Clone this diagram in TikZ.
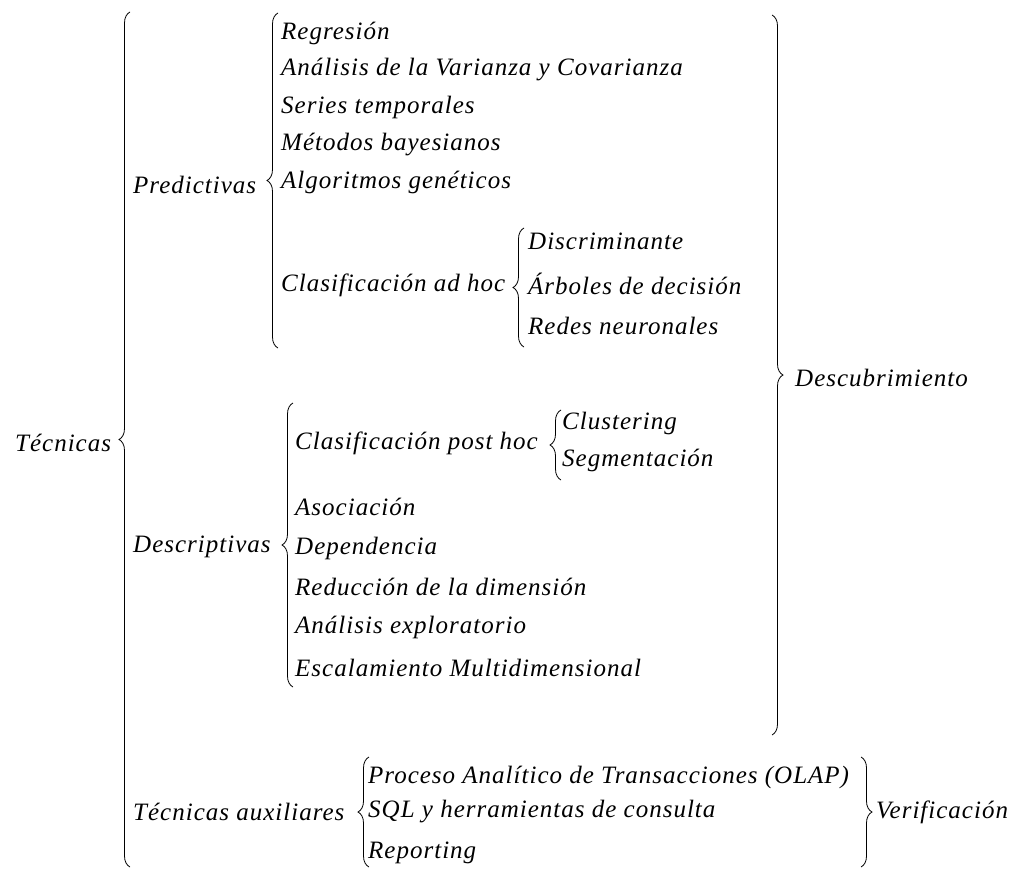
\documentclass[tikz,border=0pt]{standalone}
\usepackage{fontspec}
\setmainfont{Liberation Serif}[LetterSpace=4]
\usetikzlibrary{decorations.pathreplacing}
\tikzset{
  term/.style={anchor=west, inner sep=0pt, font=\fontsize{25}{30}\selectfont\itshape},
  lbrace/.style={decorate, decoration={brace, amplitude=11pt}, line width=0.8pt},
  rbrace/.style={decorate, decoration={brace, amplitude=11pt}, line width=0.8pt}
}

\begin{document}
\begin{tikzpicture}[x=1pt, y=-1pt]
			%%%%% START %%%%%
			\useasboundingbox[fill=white] (0, 0) rectangle (1020, 870);
			
			\node[term] (tec) at (15, 443) {Técnicas};
			\coordinate (tecA) at (130, 867);
			\coordinate (tecB) at (130, 12);
			\draw[lbrace] (tecA) -- (tecB);
			
			% predictivas
			\node[term] (pred) at (133, 185) {Predictivas};
			\coordinate (predA) at (278, 348);
			\coordinate (predB) at (278, 13);
			\draw[lbrace] (predA) -- (predB);
			
			\node[term] (reg) at (281, 33) {Regresión};
			\node[term] (anova) at (281, 70) {Análisis de la Varianza y Covarianza};
			\node[term] (series) at (281, 107) {Series temporales};
			\node[term] (bayes) at (281, 145) {Métodos bayesianos};
			\node[term] (genet) at (281, 182) {Algoritmos genéticos};
			\node[term] (adhoc) at (281, 285) {Clasificación ad hoc};
			
			\coordinate (adhocA) at (524, 347);
			\coordinate (adhocB) at (524, 228);
			\draw[lbrace] (adhocA) -- (adhocB);
			\node[term] (discr) at (528, 241) {Discriminante};
			\node[term] (arbol) at (528, 284) {Árboles de decisión};
			\node[term] (redes) at (528, 326) {Redes neuronales};
			
			% descriptivas
			\node[term] (desc) at (133, 547) {Descriptivas};
			\coordinate (descA) at (293, 687);
			\coordinate (descB) at (293, 403);
			\draw[lbrace] (descA) -- (descB);
			
			\node[term] (posthoc) at (295, 443) {Clasificación post hoc};
			\node[term] (asoc) at (295, 507) {Asociación};
			\node[term] (depen) at (295, 548) {Dependencia};
			\node[term] (reduc) at (295, 587) {Reducción de la dimensión};
			\node[term] (explo) at (295, 627) {Análisis exploratorio};
			\node[term] (escal) at (295, 668) {Escalamiento Multidimensional};
			
			\coordinate (posthocA) at (561, 480);
			\coordinate (posthocB) at (561, 410);
			\draw[lbrace] (posthocA) -- (posthocB);
			\node[term] (clust) at (562, 423) {Clustering};
			\node[term] (segm) at (562, 460) {Segmentación};
			
			% auxiliares
			\node[term] (aux) at (133, 812) {Técnicas auxiliares};
			\coordinate (auxA) at (369, 867);
			\coordinate (auxB) at (369, 757);
			\draw[lbrace] (auxA) -- (auxB);
			
			\node[term] (olap) at (368, 777) {Proceso Analítico de Transacciones (OLAP)};
			\node[term] (sql) at (368, 812) {SQL y herramientas de consulta};
			\node[term] (repor) at (368, 853) {Reporting};
			
			% lado derecho
			\coordinate (descuA) at (772, 15);
			\coordinate (descuB) at (772, 735);
			\draw[rbrace] (descuA) -- (descuB);
			\node[term] (descu) at (795, 378) {Descubrimiento};
			
			\coordinate (verifA) at (861, 757);
			\coordinate (verifB) at (861, 867);
			\draw[rbrace] (verifA) -- (verifB);
			\node[term] (verif) at (876, 812) {Verificación};
			
			%%%%% END %%%%%
\end{tikzpicture}
\end{document}
